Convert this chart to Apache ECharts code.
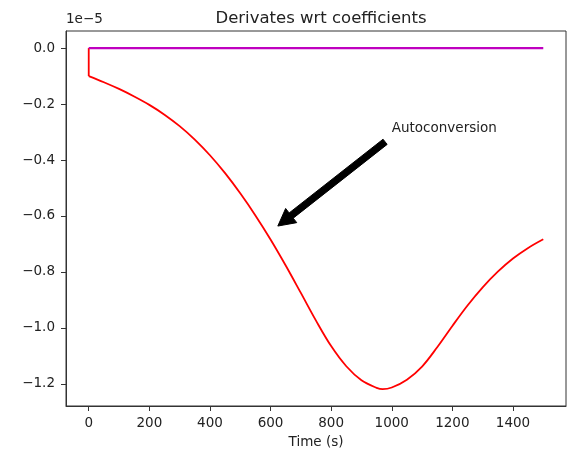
<!DOCTYPE html>
<html>
<head>
<meta charset="utf-8">
<script src="https://cdn.jsdelivr.net/npm/echarts@6/dist/echarts.min.js"></script>
<style>
  html, body { margin: 0; padding: 0; background: #fff; }
  #chart { width: 570px; height: 449px; }
</style>
</head>
<body>
<div id="chart"></div>
<script>
// values in units of 1e-5
var jumpTimes = [0, 0];
var jumpValues = [0, -0.1];
var redTimes = [0, 50, 100, 150, 200, 250, 300, 350, 400, 450, 500, 550, 600, 650, 700, 750, 800,
  850, 900, 950, 970, 1000, 1050, 1100, 1150, 1200, 1250, 1300, 1350, 1400, 1450, 1500];
var redValues = [-0.1, -0.122, -0.146, -0.173, -0.203, -0.238, -0.279, -0.327, -0.383, -0.447, -0.519,
  -0.598, -0.684, -0.777, -0.875, -0.974, -1.065, -1.137, -1.187, -1.214, -1.219, -1.213, -1.185,
  -1.138, -1.069, -0.993, -0.920, -0.855, -0.799, -0.752, -0.714, -0.683];
var purpleTimes = [0, 1500];
var purpleValues = [0, 0];
var xTicks = [0, 200, 400, 600, 800, 1000, 1200, 1400];
var yTicks = [0, -0.2, -0.4, -0.6, -0.8, -1.0, -1.2];
// annotation: text anchor, arrow tail, arrow tip
var noteText = 'Autoconversion';
var notePos = [1000, -0.3];
var arrowTail = [978, -0.335];
var arrowTip = [624, -0.636];

var font = 'DejaVu Sans';
var ink = '#222';

function zip(a, b) {
  return a.map(function (v, i) { return [v, b[i]]; });
}

var chart = echarts.init(document.getElementById('chart'), null, { renderer: 'canvas' });

var option = {
  backgroundColor: '#fff',
  animation: false,
  title: {
    text: 'Derivates wrt coefficients',
    left: 316, top: 5, textAlign: 'center',
    textStyle: { fontFamily: font, fontSize: 16.5, fontWeight: 'normal', color: ink }
  },
  graphic: [{
    type: 'text', left: 66, top: 12,
    style: { text: '1e\u22125', font: '13.5px "DejaVu Sans"', fill: ink }
  }],
  grid: {
    left: 66, right: 4, top: 31, bottom: 43,
    containLabel: false, outerBoundsMode: 'none',
    show: true, borderColor: '#333', borderWidth: 1, backgroundColor: '#fff'
  },
  xAxis: {
    type: 'value', min: -75, max: 1575,
    name: 'Time (s)', nameLocation: 'middle', nameGap: 29,
    nameTextStyle: { fontFamily: font, fontSize: 13.5, color: ink },
    axisLine: { show: true, onZero: false, lineStyle: { color: '#333' } },
    axisTick: { show: true, length: 5, customValues: xTicks, lineStyle: { color: '#333' } },
    axisLabel: { customValues: xTicks, margin: 10, fontFamily: font, fontSize: 13.5, color: ink,
      formatter: function (v) { return String(v); } },
    splitLine: { show: false }
  },
  yAxis: {
    type: 'value', min: -1.279, max: 0.061,
    axisLine: { show: true, onZero: false, lineStyle: { color: '#333' } },
    axisTick: { show: true, length: 5, customValues: yTicks, lineStyle: { color: '#333' } },
    axisLabel: { customValues: yTicks, margin: 11, fontFamily: font, fontSize: 13.5, color: ink,
      formatter: function (v) { return v.toFixed(1).replace('-', '\u2212'); } },
    splitLine: { show: false }
  },
  series: [
    {
      type: 'line', data: zip(jumpTimes, jumpValues), showSymbol: false,
      lineStyle: { color: '#ff0000', width: 1.8 }, z: 2
    },
    {
      type: 'line', data: zip(redTimes, redValues), showSymbol: false, smooth: 0.35,
      lineStyle: { color: '#ff0000', width: 1.8 }, z: 2
    },
    {
      type: 'line', data: zip(purpleTimes, purpleValues), showSymbol: false,
      lineStyle: { color: '#bf00bf', width: 2.2 }, z: 3
    },
    {
      type: 'custom', z: 4, silent: true,
      data: [[arrowTail[0], arrowTail[1], arrowTip[0], arrowTip[1], notePos[0], notePos[1]]],
      renderItem: function (params, api) {
        var a = api.coord([api.value(0), api.value(1)]);
        var b = api.coord([api.value(2), api.value(3)]);
        var t = api.coord([api.value(4), api.value(5)]);
        var dx = b[0] - a[0], dy = b[1] - a[1];
        var len = Math.sqrt(dx * dx + dy * dy);
        var ux = dx / len, uy = dy / len;
        var nx = -uy, ny = ux;
        var w = 3.3, hw = 9, hl = 17;
        var bx = b[0] - ux * hl, by = b[1] - uy * hl;
        var pts = [
          [a[0] + nx * w, a[1] + ny * w],
          [bx + nx * w, by + ny * w],
          [bx + nx * hw, by + ny * hw],
          [b[0], b[1]],
          [bx - nx * hw, by - ny * hw],
          [bx - nx * w, by - ny * w],
          [a[0] - nx * w, a[1] - ny * w]
        ];
        return {
          type: 'group',
          children: [
            { type: 'polygon', shape: { points: pts }, style: { fill: '#000', stroke: '#000', lineWidth: 1 } },
            { type: 'text', x: t[0], y: t[1] + 3,
              style: { text: noteText, font: '13.5px "DejaVu Sans"', fill: ink,
                textAlign: 'left', textVerticalAlign: 'bottom' } }
          ]
        };
      }
    }
  ]
};

chart.setOption(option);
</script>
</body>
</html>
